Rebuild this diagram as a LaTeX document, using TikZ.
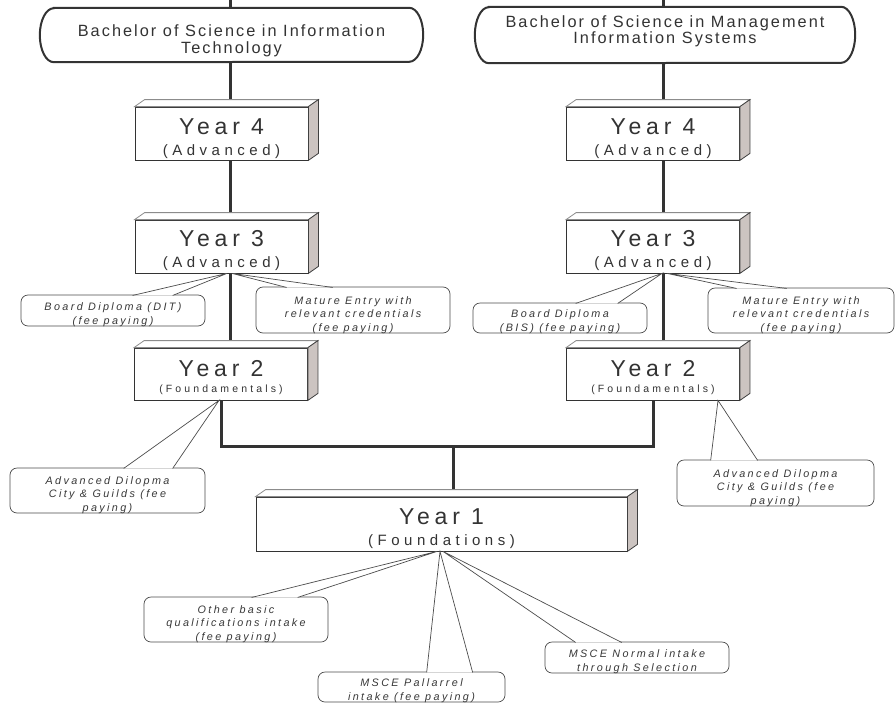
\documentclass[tikz,border=0pt]{standalone}
\usepackage{fontspec}
\setmainfont{Liberation Sans}
\usepackage{tikz}
\usetikzlibrary{shapes.geometric, arrows.meta, positioning}
\usetikzlibrary{backgrounds}
\newfontfamily\termfont[LetterSpace=12.5]{Liberation Sans}
\newfontfamily\yearfont[LetterSpace=21]{Liberation Sans}
\newfontfamily\subfont[LetterSpace=30]{Liberation Sans}
\newfontfamily\notefont[LetterSpace=22]{Liberation Sans}
\definecolor{linegray}{HTML}{333333}
\definecolor{textgray}{HTML}{333333}
\definecolor{sidegray}{HTML}{CCC4C1}
\tikzstyle{term} = [align=center, inner sep=0pt, text=textgray, font=\termfont\fontsize{16.3}{16.6}\selectfont]
\tikzstyle{termline} = [draw=linegray, fill=white, line width=2pt]
\tikzstyle{yearbox} = [draw=black!80, fill=white, line width=0.8pt, align=center, inner sep=0pt, minimum width=173pt, minimum height=53pt, text=textgray, font=\subfont\fontsize{15}{21}\selectfont]
\tikzstyle{yearboxsmall} = [yearbox, font=\subfont\fontsize{10.5}{16}\selectfont]
\tikzstyle{topface} = [draw=black!45, fill=white, line width=0.8pt]
\tikzstyle{sideface} = [draw=black!75, fill=sidegray, line width=0.8pt]
\tikzstyle{entrynote} = [draw=black!70, fill=white, line width=0.7pt, rounded corners=7pt, align=center, inner sep=0pt, text depth=2pt, text=black!78, font=\notefont\itshape\fontsize{10.8}{13.5}\selectfont]
\tikzstyle{tail} = [draw=black!70, fill=white, line width=0.7pt]
\tikzstyle{link} = [draw=linegray, line width=3pt]

\begin{document}
\begin{tikzpicture}[x=1pt, y=-1pt]
	\useasboundingbox (0,0) rectangle (896,704);
	\coordinate (topl) at (230,0);
	\coordinate (topr) at (663,0);
	\coordinate (hub) at (453,446);

	\node[term, minimum width=383pt, minimum height=54pt] (bsit) at (231.5,35) {\rule{0pt}{23pt}Bachelor of Science in Information\\Technology};
	\node[term, minimum width=380pt, minimum height=56pt] (bsmis) at (665,35) {Bachelor of Science in Management\\Information Systems\rule[-11pt]{0pt}{11pt}};

	\node[yearbox] (y4l) at (221.5,133.5) {{\yearfont\fontsize{23}{23}\selectfont\rule{0pt}{27pt}Year 4}\\(Advanced)};
	\node[yearbox] (y3l) at (221.5,246.5) {{\yearfont\fontsize{23}{23}\selectfont\rule{0pt}{25pt}Year 3}\\(Advanced)};
	\node[yearboxsmall, minimum height=52pt] (y2l) at (221,374) {{\yearfont\fontsize{23}{23}\selectfont\rule{0pt}{24pt}Year 2}\\(Foundamentals)};
	\node[yearbox] (y4r) at (653,133.5) {{\yearfont\fontsize{23}{23}\selectfont\rule{0pt}{27pt}Year 4}\\(Advanced)};
	\node[yearbox] (y3r) at (653,246.5) {{\yearfont\fontsize{23}{23}\selectfont\rule{0pt}{25pt}Year 3}\\(Advanced)};
	\node[yearboxsmall, minimum height=52pt] (y2r) at (653,374) {{\yearfont\fontsize{23}{23}\selectfont\rule{0pt}{24pt}Year 2}\\(Foundamentals)};
	\node[yearbox, minimum width=371pt, minimum height=54pt] (y1) at (441.5,524) {{\yearfont\fontsize{23}{23}\selectfont\rule{0pt}{25.5pt}Year 1}\\(Foundations)};

	\node[entrynote, minimum width=184pt, minimum height=31pt, text height=29pt] (cDITl) at (113,310.5) {Board Diploma (DIT)\\(fee paying)};
	\node[entrynote, minimum width=194pt, minimum height=46pt, text height=44pt] (cMatL) at (353,310) {Mature Entry with\\relevant credentials\\(fee paying)};
	\node[entrynote, minimum width=174pt, minimum height=30pt, text height=28pt] (cBIS) at (560,318) {Board Diploma\\(BIS) (fee paying)};
	\node[entrynote, minimum width=186pt, minimum height=45pt, text height=43pt] (cMatR) at (801,310.5) {Mature Entry with\\relevant credentials\\(fee paying)};
	\node[entrynote, minimum width=195pt, minimum height=45pt, text height=43pt] (cADl) at (107.5,490.5) {Advanced Dilopma\\City \& Guilds (fee\\paying)};
	\node[entrynote, minimum width=197pt, minimum height=46pt, text height=44pt] (cADr) at (775.5,483) {Advanced Dilopma\\City \& Guilds (fee\\paying)};
	\node[entrynote, minimum width=184pt, minimum height=45pt, text height=43pt] (cOther) at (236,619.5) {Other basic\\qualifications intake\\(fee paying)};
	\node[entrynote, minimum width=187pt, minimum height=30pt, text height=28pt] (cPall) at (411.5,687) {MSCE Pallarrel\\intake (fee paying)};
	\node[entrynote, minimum width=184pt, minimum height=31pt, text height=29pt] (cNorm) at (637,657.5) {MSCE Normal intake\\through Selection};

	\draw[termline] ([xshift=14pt]bsit.north west) -- ([xshift=-14pt]bsit.north east) arc[start angle=90, end angle=-90, x radius=14pt, y radius=27pt] -- ([xshift=14pt]bsit.south west) arc[start angle=270, end angle=90, x radius=14pt, y radius=27pt] -- cycle;
	\draw[termline] ([xshift=14pt]bsmis.north west) -- ([xshift=-14pt]bsmis.north east) arc[start angle=90, end angle=-90, x radius=14pt, y radius=28pt] -- ([xshift=14pt]bsmis.south west) arc[start angle=270, end angle=90, x radius=14pt, y radius=28pt] -- cycle;
	\node[term] at (bsit) {\rule{0pt}{23pt}Bachelor of Science in Information\\Technology};
	\node[term] at (bsmis) {Bachelor of Science in Management\\Information Systems\rule[-11pt]{0pt}{11pt}};

	\draw[topface] (y4l.north west) -- ++(10,-7) -- ([xshift=10pt,yshift=7pt]y4l.north east) -- (y4l.north east) -- cycle;
	\draw[sideface] (y4l.north east) -- ++(10,-7) -- ([xshift=10pt,yshift=7pt]y4l.south east) -- (y4l.south east) -- cycle;
	\draw[topface] (y3l.north west) -- ++(10,-7) -- ([xshift=10pt,yshift=7pt]y3l.north east) -- (y3l.north east) -- cycle;
	\draw[sideface] (y3l.north east) -- ++(10,-7) -- ([xshift=10pt,yshift=7pt]y3l.south east) -- (y3l.south east) -- cycle;
	\draw[topface] (y2l.north west) -- ++(10,-7) -- ([xshift=10pt,yshift=7pt]y2l.north east) -- (y2l.north east) -- cycle;
	\draw[sideface] (y2l.north east) -- ++(10,-7) -- ([xshift=10pt,yshift=7pt]y2l.south east) -- (y2l.south east) -- cycle;
	\draw[topface] (y4r.north west) -- ++(10,-7) -- ([xshift=10pt,yshift=7pt]y4r.north east) -- (y4r.north east) -- cycle;
	\draw[sideface] (y4r.north east) -- ++(10,-7) -- ([xshift=10pt,yshift=7pt]y4r.south east) -- (y4r.south east) -- cycle;
	\draw[topface] (y3r.north west) -- ++(10,-7) -- ([xshift=10pt,yshift=7pt]y3r.north east) -- (y3r.north east) -- cycle;
	\draw[sideface] (y3r.north east) -- ++(10,-7) -- ([xshift=10pt,yshift=7pt]y3r.south east) -- (y3r.south east) -- cycle;
	\draw[topface] (y2r.north west) -- ++(10,-7) -- ([xshift=10pt,yshift=7pt]y2r.north east) -- (y2r.north east) -- cycle;
	\draw[sideface] (y2r.north east) -- ++(10,-7) -- ([xshift=10pt,yshift=7pt]y2r.south east) -- (y2r.south east) -- cycle;
	\draw[topface] (y1.north west) -- ++(10,-7) -- ([xshift=10pt,yshift=7pt]y1.north east) -- (y1.north east) -- cycle;
	\draw[sideface] (y1.north east) -- ++(10,-7) -- ([xshift=10pt,yshift=7pt]y1.south east) -- (y1.south east) -- cycle;

	\filldraw[tail] ([xshift=112pt,yshift=-0.8pt]cDITl.north west) -- ([xshift=5.5pt]y3l.south) -- ([xshift=152pt,yshift=-0.8pt]cDITl.north west);
	\filldraw[tail] ([xshift=31pt,yshift=-0.8pt]cMatL.north west) -- ([xshift=10.5pt]y3l.south) -- ([xshift=77pt,yshift=-0.8pt]cMatL.north west);
	\filldraw[tail] ([xshift=103pt,yshift=-0.8pt]cBIS.north west) -- ([xshift=9pt]y3r.south) -- ([xshift=145pt,yshift=-0.8pt]cBIS.north west);
	\filldraw[tail] ([xshift=29pt,yshift=-0.8pt]cMatR.north west) -- ([xshift=14pt]y3r.south) -- ([xshift=79pt,yshift=-0.8pt]cMatR.north west);
	\filldraw[tail] ([xshift=114pt,yshift=-0.8pt]cADl.north west) -- ([xshift=-2pt]y2l.south) -- ([xshift=163pt,yshift=-0.8pt]cADl.north west);
	\filldraw[tail] ([xshift=34pt,yshift=-0.8pt]cADr.north west) -- ([xshift=65pt]y2r.south) -- ([xshift=81pt,yshift=-0.8pt]cADr.north west);
	\filldraw[tail] ([xshift=108pt,yshift=-0.8pt]cOther.north west) -- ([xshift=-4.5pt]y1.south) -- ([xshift=154pt,yshift=-0.8pt]cOther.north west);
	\filldraw[tail] ([xshift=109pt,yshift=-0.8pt]cPall.north west) -- ([xshift=-1.5pt]y1.south) -- ([xshift=155pt,yshift=-0.8pt]cPall.north west);
	\filldraw[tail] ([xshift=31pt,yshift=-0.8pt]cNorm.north west) -- ([xshift=1.5pt]y1.south) -- ([xshift=77pt,yshift=-0.8pt]cNorm.north west);

	\begin{scope}[on background layer]
		\draw[link] (topl) -- (topl |- bsit.north);
		\draw[link] (topl |- bsit.south) -- (topl |- y4l.north);
		\draw[link] (topl |- y4l.south) -- (topl |- y3l.north);
		\draw[link] (topl |- y3l.south) -- (topl |- y2l.north);
		\draw[link] (topr) -- (topr |- bsmis.north);
		\draw[link] (topr |- bsmis.south) -- (topr |- y4r.north);
		\draw[link] (topr |- y4r.south) -- (topr |- y3r.north);
		\draw[link] (topr |- y3r.south) -- (topr |- y2r.north);
		\draw[link] (y2l.south) -- (y2l.south |- hub) -- (y2r.south |- hub) -- (y2r.south);
		\draw[link] (hub) -- (hub |- y1.north);
	\end{scope}
\end{tikzpicture}
\end{document}
